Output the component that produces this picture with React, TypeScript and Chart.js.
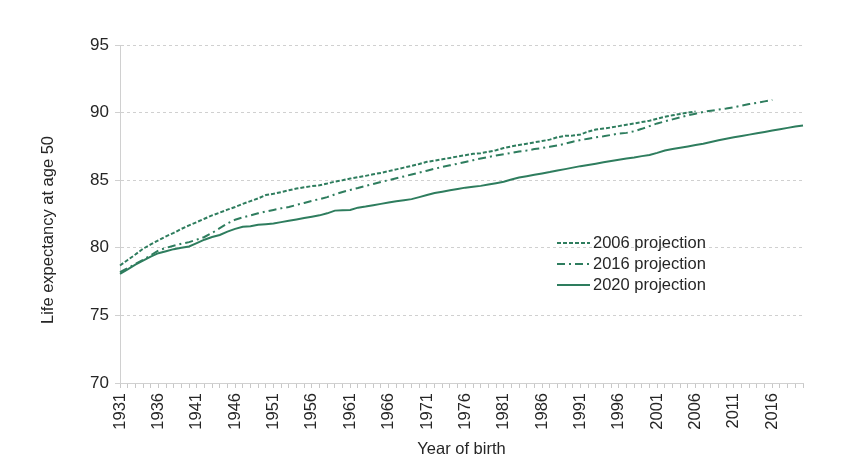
import React, { useEffect, useRef } from "react";
import { Chart, registerables } from "chart.js";

Chart.register(...registerables);

const years: string[] = [];
for (let y = 1931; y <= 2020; y++) years.push(String(y));

const proj2006: (number | null)[] = [
  78.69, 79.1, 79.5, 79.93, 80.25, 80.55, 80.85, 81.1, 81.4, 81.66,
  81.9, 82.15, 82.4, 82.6, 82.82, 83.02, 83.25, 83.45, 83.65, 83.9,
  84.0, 84.12, 84.25, 84.38, 84.48, 84.56, 84.62, 84.75, 84.9, 85.0,
  85.12, 85.22, 85.32, 85.44, 85.54, 85.67, 85.8, 85.93, 86.06, 86.2,
  86.36, 86.45, 86.55, 86.65, 86.75, 86.85, 86.95, 87.0, 87.1, 87.22,
  87.38, 87.5, 87.6, 87.7, 87.8, 87.9, 88.0, 88.18, 88.28, 88.3,
  88.38, 88.6, 88.75, 88.82, 88.9, 89.0, 89.1, 89.2, 89.3, 89.4,
  89.55, 89.7, 89.8, 89.9, 90.0, 90.08,
];

const proj2016: (number | null)[] = [
  78.2, 78.5, 78.8, 79.1, 79.45, 79.8, 80.0, 80.15, 80.3, 80.42,
  80.6, 80.8, 81.1, 81.45, 81.8, 82.08, 82.25, 82.4, 82.55, 82.68,
  82.8, 82.92, 83.02, 83.17, 83.32, 83.47, 83.6, 83.75, 83.95, 84.13,
  84.28, 84.42, 84.58, 84.72, 84.87, 85.0, 85.14, 85.28, 85.42, 85.56,
  85.7, 85.85, 85.98, 86.1, 86.22, 86.35, 86.48, 86.6, 86.72, 86.82,
  86.92, 87.02, 87.12, 87.2, 87.3, 87.38, 87.47, 87.57, 87.7, 87.85,
  87.97, 88.07, 88.17, 88.25, 88.35, 88.45, 88.5, 88.62, 88.8, 89.0,
  89.2, 89.35, 89.5, 89.65, 89.8, 89.92, 90.05, 90.14, 90.22, 90.3,
  90.4, 90.52, 90.63, 90.72, 90.83, 90.94,
];

const proj2020: number[] = [
  78.07, 78.4, 78.75, 79.05, 79.35, 79.6, 79.75, 79.9, 80.0, 80.1,
  80.35, 80.6, 80.8, 80.95, 81.2, 81.4, 81.55, 81.6, 81.7, 81.75,
  81.8, 81.9, 82.0, 82.1, 82.2, 82.3, 82.4, 82.55, 82.75, 82.77,
  82.8, 82.97, 83.05, 83.15, 83.25, 83.35, 83.45, 83.52, 83.6, 83.75,
  83.9, 84.05, 84.15, 84.25, 84.35, 84.45, 84.52, 84.58, 84.68, 84.78,
  84.88, 85.05, 85.2, 85.3, 85.4, 85.5, 85.6, 85.72, 85.82, 85.93,
  86.04, 86.13, 86.22, 86.32, 86.42, 86.52, 86.6, 86.68, 86.78, 86.86,
  87.02, 87.2, 87.3, 87.4, 87.5, 87.6, 87.7, 87.82, 87.95, 88.07,
  88.17, 88.27, 88.37, 88.47, 88.57, 88.67, 88.77, 88.87, 88.97, 89.05,
];

const seriesLabels = ["2006 projection", "2016 projection", "2020 projection"];
const yTicks = [70, 75, 80, 85, 90, 95];
const yTitle = "Life expectancy at age 50";
const xTitle = "Year of birth";

const GREEN = "#2e7d5e";
const FONT = '"Liberation Sans", Arial, sans-serif';
const TEXT = "#262626";

const insideLegend = {
  id: "insideLegend",
  afterDatasetsDraw(chart: any) {
    const { ctx, chartArea } = chart;
    const x0 = chartArea.left + 437;
    const y0 = chartArea.top + 198;
    chart.data.datasets.forEach((ds: any, i: number) => {
      const y = y0 + i * 21;
      ctx.save();
      ctx.strokeStyle = ds.borderColor;
      ctx.lineWidth = ds.borderWidth;
      ctx.setLineDash(ds.borderDash || []);
      ctx.beginPath();
      ctx.moveTo(x0, y);
      ctx.lineTo(x0 + 33, y);
      ctx.stroke();
      ctx.setLineDash([]);
      ctx.fillStyle = TEXT;
      ctx.font = `16.5px ${FONT}`;
      ctx.textBaseline = "middle";
      ctx.textAlign = "left";
      ctx.fillText(ds.label, x0 + 36, y);
      ctx.restore();
    });
    // y-axis title, placed slightly below the plot centre as in the reference
    ctx.save();
    ctx.translate(48, (chartArea.top + chartArea.bottom) / 2 + 16);
    ctx.rotate(-Math.PI / 2);
    ctx.fillStyle = TEXT;
    ctx.font = `16.5px ${FONT}`;
    ctx.textAlign = "center";
    ctx.textBaseline = "middle";
    ctx.fillText(yTitle, 0, 0);
    ctx.restore();
  },
};

export default function App() {
  const ref = useRef<HTMLCanvasElement>(null);
  useEffect(() => {
    if (!ref.current) return;
    const chart = new Chart(ref.current, {
      type: "line",
      data: {
        labels: years,
        datasets: [
          {
            label: seriesLabels[0],
            data: proj2006,
            borderColor: GREEN,
            borderWidth: 2,
            borderDash: [4, 2],
            pointRadius: 0,
            fill: false,
            tension: 0,
          },
          {
            label: seriesLabels[1],
            data: proj2016,
            borderColor: GREEN,
            borderWidth: 2,
            borderDash: [8, 4, 2, 4],
            pointRadius: 0,
            fill: false,
            tension: 0,
          },
          {
            label: seriesLabels[2],
            data: proj2020,
            borderColor: GREEN,
            borderWidth: 2,
            pointRadius: 0,
            fill: false,
            tension: 0,
          },
        ],
      },
      options: {
        animation: false,
        responsive: false,
        layout: { padding: { top: 45, right: 45, left: 0, bottom: 0 } },
        plugins: {
          legend: { display: false },
          tooltip: { enabled: false },
        },
        scales: {
          x: {
            type: "category",
            offset: false,
            afterFit: (s: any) => {
              s.height = 91;
            },
            grid: {
              display: true,
              drawOnChartArea: false,
              drawTicks: true,
              tickLength: 5,
              color: "#c8c8c8",
            },
            border: { display: true, color: "#d0d0d0", width: 1 },
            ticks: {
              autoSkip: false,
              maxRotation: 90,
              minRotation: 90,
              padding: 5,
              color: TEXT,
              font: { family: FONT, size: 16.5 },
              callback: (_v: any, i: number) => (i % 5 === 0 ? years[i] : ""),
            },
            title: {
              display: true,
              text: xTitle,
              color: TEXT,
              font: { family: FONT, size: 16.5 },
              padding: { top: 0, bottom: 15 },
            },
          },
          y: {
            min: 70,
            max: 95,
            afterFit: (s: any) => {
              s.width = 120;
            },
            afterBuildTicks: (s: any) => {
              s.ticks = yTicks.map((v) => ({ value: v }));
            },
            grid: {
              color: "#d0d0d0",
              tickLength: 5,
              tickBorderDash: [],
            },
            border: { display: true, color: "#d0d0d0", dash: [3, 3] },
            ticks: {
              padding: 6,
              color: TEXT,
              font: { family: FONT, size: 17 },
            },
            title: { display: false },
          },
        },
      },
      plugins: [insideLegend],
    });
    return () => chart.destroy();
  }, []);
  return (
    <div style={{ position: "absolute", left: 0, top: 0, width: 848, height: 474, background: "#fff" }}>
      <canvas ref={ref} width={848} height={474} style={{ display: "block" }} />
    </div>
  );
}
